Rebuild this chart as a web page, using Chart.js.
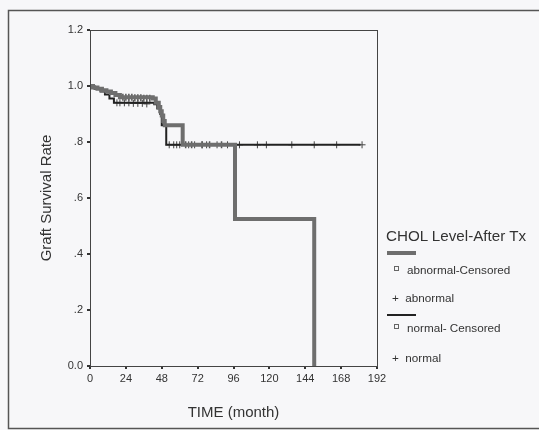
<!DOCTYPE html>
<html>
<head>
<meta charset="utf-8">
<script src="https://cdn.jsdelivr.net/npm/chart.js@4/dist/chart.umd.min.js"></script>
<style>
  html, body { margin: 0; padding: 0; background: #f7f7f9; }
  #wrap { position: relative; width: 539px; height: 430px; overflow: hidden;
          font-family: "Liberation Sans", Arial, sans-serif; color: #333; }
  #legend { position: absolute; left: 386px; top: 227px; }
  .lg { position: absolute; white-space: nowrap; }
  .ttl { font-size: 15.2px; }
  .itm { font-size: 11.7px; }
  .sw { position: absolute; width: 29px; }
</style>
</head>
<body>
<div id="wrap">
  <canvas id="myChart" width="539" height="430"></canvas>
  <div id="legend">
    <div class="lg ttl" style="left:0;top:0">CHOL Level-After Tx</div>
    <div class="sw" style="left:1px;top:24px;height:4px;background:#6e6e6e"></div>
    <div class="lg itm" style="left:8px;top:36px"><span style="display:inline-block;width:3px;height:3px;border:1px solid #666;margin-right:8px;vertical-align:3px"></span>abnormal-Censored</div>
    <div class="lg itm" style="left:6px;top:64px">+&nbsp;&nbsp;abnormal</div>
    <div class="sw" style="left:1px;top:87px;height:2px;background:#222"></div>
    <div class="lg itm" style="left:8px;top:94px"><span style="display:inline-block;width:3px;height:3px;border:1px solid #666;margin-right:8px;vertical-align:3px"></span>normal- Censored</div>
    <div class="lg itm" style="left:6px;top:124px">+&nbsp;&nbsp;normal</div>
  </div>
</div>
<script>
/** 时间刻度 (月) */
var xTicks = [0, 24, 48, 72, 96, 120, 144, 168, 192]
var yTickLabels = { 0: '0.0', 0.2: '.2', 0.4: '.4', 0.6: '.6', 0.8: '.8', 1: '1.0', 1.2: '1.2' }

/** abnormal 生存曲线 */
var abnormalTime = [0, 2, 5, 8, 11, 14, 17, 20, 42, 44, 46, 47, 48, 49, 50, 62, 97, 150]
var abnormalRate = [1.0, 0.995, 0.99, 0.985, 0.98, 0.975, 0.968, 0.96, 0.955, 0.94, 0.925, 0.91, 0.895, 0.875, 0.86, 0.79, 0.525, 0]

/** normal 生存曲线 */
var normalTime = [0, 3, 7, 10, 13, 16, 43, 45, 47, 48, 51, 181]
var normalRate = [1.0, 0.99, 0.98, 0.97, 0.955, 0.94, 0.935, 0.92, 0.9, 0.86, 0.79, 0.79]

/** 删失点 */
var abnormalCensTime = [22, 24, 26, 28, 30, 32, 34, 36, 38, 40, 64, 68, 75, 80, 88]
var abnormalCensRate = [0.96, 0.96, 0.96, 0.96, 0.958, 0.958, 0.958, 0.956, 0.956, 0.956, 0.79, 0.79, 0.79, 0.79, 0.79]
var normalCensTime = [18, 20, 23, 26, 29, 32, 35, 38, 53, 56, 58, 60, 66, 70, 75, 78, 85, 92, 100, 112, 118, 135, 150, 165, 182]
var normalCensRate = [0.94, 0.94, 0.94, 0.94, 0.938, 0.938, 0.938, 0.936, 0.79, 0.79, 0.79, 0.79, 0.79, 0.79, 0.79, 0.79, 0.79, 0.79, 0.79, 0.79, 0.79, 0.79, 0.79, 0.79, 0.79]

function toPoints(xs, ys) {
    return xs.map(function (x, i) { return { x: x, y: ys[i] } })
}

/** 外框 + 绘图区边框 */
var framePlugin = {
    id: 'frame',
    beforeDraw: function (chart) {
        var ctx = chart.ctx
        ctx.save()
        ctx.strokeStyle = '#555'
        ctx.lineWidth = 1.5
        ctx.strokeRect(8.5, 10.5, 560, 418)
        ctx.restore()
    },
    afterDatasetsDraw: function (chart) {
        var a = chart.chartArea
        var ctx = chart.ctx
        ctx.save()
        ctx.strokeStyle = '#444'
        ctx.lineWidth = 1
        ctx.strokeRect(Math.round(a.left) + 0.5, Math.round(a.top) + 0.5, Math.round(a.right - a.left), Math.round(a.bottom - a.top))
        ctx.restore()
    }
}

var ctx = document.getElementById('myChart').getContext('2d')
var myChart = new Chart(ctx, {
    type: 'line',
    data: {
        datasets: [
            {
                label: 'abnormal',
                data: toPoints(abnormalTime, abnormalRate),
                stepped: 'before',
                borderColor: '#6e6e6e',
                borderWidth: 4,
                pointRadius: 0,
                fill: false,
                borderJoinStyle: 'miter'
            },
            {
                label: 'normal',
                data: toPoints(normalTime, normalRate),
                stepped: 'before',
                borderColor: '#222',
                borderWidth: 2,
                pointRadius: 0,
                fill: false
            },
            {
                label: 'abnormal-Censored',
                data: toPoints(abnormalCensTime, abnormalCensRate),
                showLine: false,
                pointStyle: 'cross',
                pointRadius: 3.5,
                pointBorderColor: '#555',
                pointBorderWidth: 1.5
            },
            {
                label: 'normal- Censored',
                data: toPoints(normalCensTime, normalCensRate),
                showLine: false,
                pointStyle: 'cross',
                pointRadius: 3.5,
                pointBorderColor: '#444',
                pointBorderWidth: 1
            }
        ]
    },
    options: {
        responsive: false,
        animation: false,
        layout: { padding: { left: 0, top: 30, right: 162, bottom: 0 } },
        plugins: { legend: { display: false }, tooltip: { enabled: false } },
        scales: {
            x: {
                type: 'linear',
                min: 0,
                max: 192,
                afterFit: function (s) { s.height = 64 },
                afterBuildTicks: function (s) { s.ticks = xTicks.map(function (v) { return { value: v } }) },
                grid: { drawOnChartArea: false, tickLength: 3, color: '#333', lineWidth: 2 },
                border: { display: false },
                ticks: { color: '#333', font: { family: 'Liberation Sans', size: 11 }, padding: 3, maxRotation: 0 },
                title: { display: true, text: 'TIME (month)', color: '#333', font: { family: 'Liberation Sans', size: 15 }, padding: { bottom: 8 } }
            },
            y: {
                min: 0,
                max: 1.2,
                afterFit: function (s) { s.width = 90 },
                ticks: {
                    stepSize: 0.2,
                    color: '#333',
                    font: { family: 'Liberation Sans', size: 11 },
                    padding: 4,
                    callback: function (v) { return yTickLabels[Math.round(v * 10) / 10] }
                },
                grid: { drawOnChartArea: false, tickLength: 3, color: '#333', lineWidth: 2 },
                border: { display: false },
                title: { display: true, text: 'Graft Survival Rate', color: '#333', font: { family: 'Liberation Sans', size: 15 }, padding: { top: 38 } }
            }
        }
    },
    plugins: [framePlugin]
})
</script>
</body>
</html>
